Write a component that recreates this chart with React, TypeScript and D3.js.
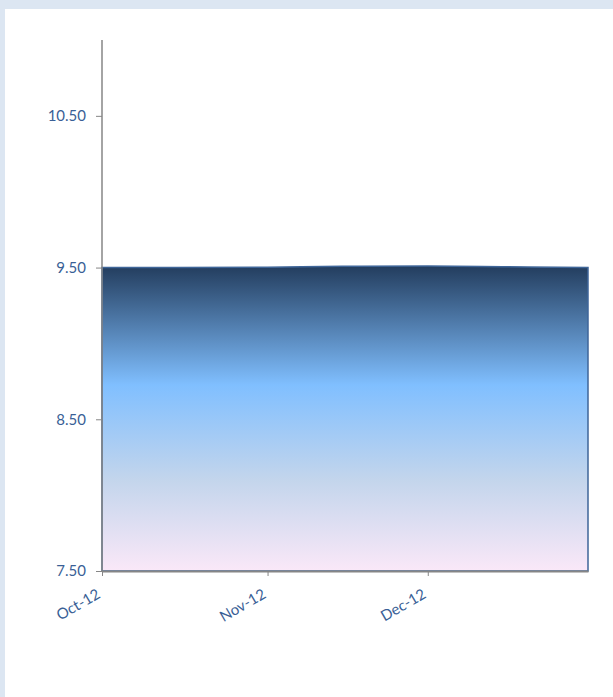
import React, { useEffect, useRef } from "react";
import * as d3 from "d3";

// rate series
const dates = ["2012-10-01", "2012-10-15", "2012-11-01", "2012-11-15", "2012-12-01", "2012-12-15", "2012-12-31"];
const values = [9.5, 9.5, 9.502, 9.508, 9.51, 9.506, 9.5];
const yTicks = [7.5, 8.5, 9.5, 10.5];
const xTicks = ["2012-10-01", "2012-11-01", "2012-12-01"];

const App: React.FC = () => {
  const svgRef = useRef(null);

  useEffect(() => {
    const w = 613;
    const h = 697;
    const margin = { left: 102, right: 25, top: 40, bottom: 126 };

    const svg = d3.select(svgRef.current).attr("width", w).attr("height", h);

    svg.append("rect").attr("width", w).attr("height", h).attr("fill", "#dce6f2");
    svg.append("rect").attr("x", 5).attr("y", 9).attr("width", w - 5).attr("height", h - 9).attr("fill", "#ffffff");

    const parse = d3.timeParse("%Y-%m-%d");
    const data = dates.map((d, i) => ({ date: parse(d) as Date, value: values[i] }));

    const xScale = d3
      .scaleTime()
      .domain([parse("2012-10-01") as Date, parse("2012-12-31") as Date])
      .range([margin.left, w - margin.right]);

    const yScale = d3
      .scaleLinear()
      .domain([7.5, 11])
      .range([h - margin.bottom, margin.top]);

    const defs = svg.append("defs");
    const grad = defs
      .append("linearGradient")
      .attr("id", "areaFill")
      .attr("x1", 0)
      .attr("y1", 0)
      .attr("x2", 0)
      .attr("y2", 1);
    grad.append("stop").attr("offset", "0").attr("stop-color", "#233d5e");
    grad.append("stop").attr("offset", "0.39").attr("stop-color", "#80bfff");
    grad.append("stop").attr("offset", "0.7").attr("stop-color", "#c3d5ec");
    grad.append("stop").attr("offset", "1").attr("stop-color", "#fae8f8");

    const area = d3
      .area<{ date: Date; value: number }>()
      .x((d) => xScale(d.date))
      .y0(yScale(7.5))
      .y1((d) => yScale(d.value))
      .curve(d3.curveMonotoneX);

    svg
      .append("path")
      .datum(data)
      .attr("d", area)
      .attr("fill", "url(#areaFill)")
      .attr("stroke", "#3f6699")
      .attr("stroke-width", 1.5);

    const yAxis = d3
      .axisLeft(yScale)
      .tickValues(yTicks)
      .tickFormat((d) => d3.format(".2f")(d as number))
      .tickSize(6)
      .tickPadding(10);

    const yg = svg.append("g").attr("transform", `translate(${margin.left},0)`).call(yAxis);
    yg.select(".domain").attr("stroke", "#868686").attr("stroke-width", 1.5).attr("d", `M0,${margin.top}V${yScale(7.5)}`);
    yg.selectAll(".tick line").attr("stroke", "#868686");
    yg.selectAll("text")
      .attr("fill", "#3a5f96")
      .style("font-family", "Lato, 'Open Sans', sans-serif")
      .style("font-size", "15px");

    const xAxis = d3
      .axisBottom(xScale)
      .tickValues(xTicks.map((d) => parse(d) as Date))
      .tickFormat((d) => d3.timeFormat("%b-%y")(d as Date))
      .tickSize(5)
      .tickSizeOuter(0);

    const xg = svg.append("g").attr("transform", `translate(0,${yScale(7.5)})`).call(xAxis);
    xg.select(".domain").attr("stroke", "#868686").attr("stroke-width", 2);
    xg.selectAll(".tick line").attr("stroke", "#868686");
    xg.selectAll("text")
      .attr("fill", "#3a5f96")
      .style("font-family", "Lato, 'Open Sans', sans-serif")
      .style("font-size", "15px")
      .style("text-anchor", "end")
      .attr("x", -14)
      .attr("y", 22)
      .attr("dx", 0)
      .attr("dy", 0)
      .attr("transform", "rotate(-30)");

    return () => {
      svg.selectAll("*").remove();
    };
  }, []);

  return (
    <div style={{ position: "absolute", left: 0, top: 0 }}>
      <svg ref={svgRef} style={{ display: "block" }} />
    </div>
  );
};

export default App;
